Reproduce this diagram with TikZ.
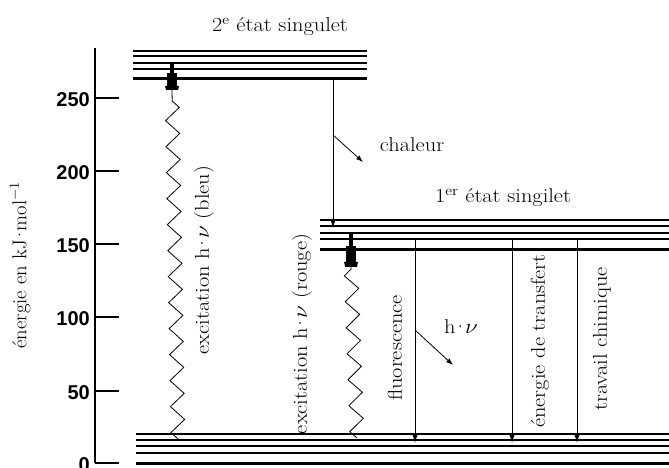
\documentclass[tikz,border=0pt]{standalone}
\usepackage{fontspec}
\newfontfamily\tickfont{Liberation Sans}
\usetikzlibrary{arrows.meta,decorations.pathmorphing}
\newcommand\wid[1]{\scalebox{1.12}[1]{#1}}
\newcommand\hnu{h\kern-3pt·\kern-3pt$\nu$}
\begin{document}
\begin{tikzpicture}[x=1pt,y=-1pt,
  thinlvl/.style={line width=1.3pt},
  thicklvl/.style={line width=3pt},
  axisline/.style={line width=1.2pt},
  conn/.style={line width=0.9pt,-{Latex[length=9pt,width=6pt]}},
  smallarr/.style={line width=0.8pt,-{Latex[length=7pt,width=5pt]}},
  wavy/.style={line width=0.8pt,decorate,decoration={zigzag,segment length=26pt,amplitude=7pt}},
  lbl/.style={font=\fontsize{20}{24}\selectfont, inner sep=0pt},
  ticklbl/.style={font=\tickfont\bfseries\fontsize{20}{24}\selectfont, anchor=east, inner sep=0pt},
  bolttip/.pic={\fill (-1.6,0) rectangle (1.6,10); \fill (-5,10) rectangle (5,23);
    \fill (-7,23) -- (7,23) -- (6,27) -- (-6,27) -- cycle;}]
\useasboundingbox (0,0) rectangle (669,468);

% axis
\draw[axisline] (95,48) -- (95,463);
\foreach \v/\y in {250/98,200/171,150/244,100/317,50/391,0/463}{
  \draw[axisline] (95,\y) -- (119,\y);
  \node[ticklbl] (t\v) at (90,\y+1.5) {\v};
}
\node[lbl,rotate=90] (ylab) at (20,265) {\scalebox{1.03}[1]{énergie en kJ\kern-3pt·\kern-3pt mol$^{\mathrm{-1}}$}};

% levels: 2nd singlet
\foreach \y in {51,56,63,69} \draw[thinlvl] (133,\y) -- (367,\y);
\draw[thicklvl] (133,79) -- (367,79);
\node[lbl] (s2lab) at (280,27) {\wid{2\textsuperscript{e} état singulet}};

% 1st singlet
\foreach \y in {220,226,233,239} \draw[thinlvl] (320,\y) -- (669,\y);
\draw[thicklvl] (320,249) -- (669,249);
\node[lbl] (s1lab) at (503,198) {\wid{1\textsuperscript{er} état singilet}};

% ground state
\foreach \y in {434,440,446,453} \draw[thinlvl] (136,\y) -- (669,\y);
\draw[thicklvl] (136,463) -- (669,463);

% blue excitation
\coordinate (bb) at (178,439);
\coordinate (bt) at (172,90);
\draw[wavy] (bb) -- (bt);
\pic at (172,63) {bolttip};
\node[lbl,rotate=90] (blab) at (204,260) {\wid{excitation \hnu{} (bleu)}};

% red excitation
\coordinate (rb) at (357,438);
\coordinate (rt) at (351,267);
\draw[wavy] (rb) -- (rt);
\pic[yscale=1.25] at (351,233) {bolttip};
\node[lbl,rotate=90] (rlab) at (302,334) {\wid{excitation \hnu{} (rouge)}};

% heat
\coordinate (c1) at (333,79);
\coordinate (c2) at (333,228);
\draw[conn] (c1) -- (c2);
\coordinate (ca) at (333,135);
\coordinate (cb) at (363,162);
\draw[smallarr] (ca) -- (cb);
\node[lbl] (chal) at (412,145) {\wid{chaleur}};

% de-excitation paths
\coordinate (f1) at (415,239); \coordinate (f2) at (415,443);
\coordinate (e1) at (512,239); \coordinate (e2) at (512,443);
\coordinate (w1) at (577,239); \coordinate (w2) at (577,443);
\draw[conn] (f1) -- (f2);
\draw[conn] (e1) -- (e2);
\draw[conn] (w1) -- (w2);
\node[lbl,rotate=90] (flab) at (395,348) {\wid{fluorescence}};
\node[lbl,rotate=90] (elab) at (540,341) {\wid{énergie de transfert}};
\node[lbl,rotate=90] (wlab) at (602,339) {\wid{travail chimique}};

% photon
\coordinate (ha) at (415,330);
\coordinate (hb) at (453,365);
\draw[smallarr] (ha) -- (hb);
\node[lbl] (hnu) at (461,327) {\wid{\hnu}};
\end{tikzpicture}
\end{document}
